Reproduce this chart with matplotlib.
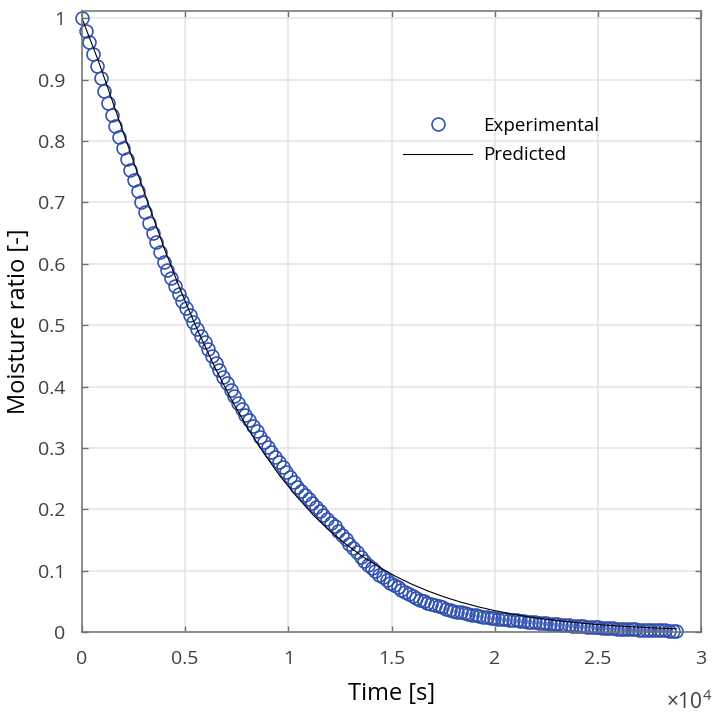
import numpy as np
import matplotlib
matplotlib.use("Agg")
import matplotlib.pyplot as plt

plt.rcParams["font.family"] = ["Open Sans", "DejaVu Sans"]
plt.rcParams["mathtext.fontset"] = "custom"
plt.rcParams["mathtext.rm"] = "Open Sans"
plt.rcParams["mathtext.it"] = "Open Sans"

# experimental moisture ratio, one reading every 180 s
time_exp = np.arange(0, 28801, 180)
mr_exp = [
    1.000, 0.980, 0.961, 0.942, 0.922, 0.902, 0.882, 0.862, 0.843, 0.824,
    0.806, 0.788, 0.770, 0.753, 0.736, 0.719, 0.701, 0.684, 0.667, 0.651,
    0.635, 0.619, 0.603, 0.590, 0.577, 0.564, 0.551, 0.539, 0.528, 0.516,
    0.505, 0.494, 0.483, 0.472, 0.461, 0.449, 0.438, 0.427, 0.416, 0.405,
    0.394, 0.384, 0.374, 0.364, 0.354, 0.345, 0.336, 0.327, 0.318, 0.310,
    0.302, 0.294, 0.285, 0.277, 0.269, 0.261, 0.253, 0.245, 0.237, 0.230,
    0.224, 0.217, 0.211, 0.204, 0.197, 0.191, 0.185, 0.178, 0.172, 0.165,
    0.158, 0.151, 0.144, 0.137, 0.130, 0.122, 0.115, 0.110, 0.104, 0.099,
    0.093, 0.089, 0.085, 0.080, 0.077, 0.073, 0.069, 0.066, 0.062, 0.058,
    0.055, 0.053, 0.051, 0.048, 0.046, 0.044, 0.042, 0.040, 0.038, 0.0362,
    0.0347, 0.0333, 0.0320, 0.0307, 0.0295, 0.0283, 0.0272, 0.0262, 0.0252, 0.0243,
    0.0234, 0.0226, 0.0219, 0.0212, 0.0206, 0.0200, 0.0194, 0.0188, 0.0182, 0.0176,
    0.0170, 0.0164, 0.0158, 0.0152, 0.0147, 0.0141, 0.0136, 0.0130, 0.0125, 0.0120,
    0.0115, 0.0110, 0.0105, 0.0100, 0.0095, 0.0091, 0.0087, 0.0083, 0.0079, 0.0075,
    0.0071, 0.0067, 0.0063, 0.0059, 0.0055, 0.0052, 0.0050, 0.0047, 0.0045, 0.0043,
    0.0041, 0.0038, 0.0036, 0.0034, 0.0032, 0.0030, 0.0028, 0.0026, 0.0024, 0.0022,
    0.0020,
]

# predicted curve, sampled every 800 s
time_pred = np.arange(0, 28801, 800)
mr_pred = [
    1.000, 0.930, 0.853, 0.776, 0.699, 0.624, 0.555, 0.492, 0.434, 0.381,
    0.334, 0.292, 0.254, 0.221, 0.191, 0.165, 0.143, 0.123, 0.106, 0.0907,
    0.0777, 0.0664, 0.0567, 0.0483, 0.0411, 0.0349, 0.0296, 0.0251, 0.0212, 0.0179,
    0.0151, 0.0127, 0.0107, 0.0090, 0.0076, 0.0064, 0.0053,
]

x_ticks = [0, 5000, 10000, 15000, 20000, 25000, 30000]
x_tick_labels = ["0", "0.5", "1", "1.5", "2", "2.5", "3"]
y_ticks = [0, 0.1, 0.2, 0.3, 0.4, 0.5, 0.6, 0.7, 0.8, 0.9, 1]
y_tick_labels = ["0", "0.1", "0.2", "0.3", "0.4", "0.5", "0.6", "0.7", "0.8", "0.9", "1"]

blue = "#2f4fae"
axis_grey = "#707070"
label_grey = "#404040"

fig = plt.figure(figsize=(7.13, 7.17), dpi=100)
ax = fig.add_axes([0.1150, 0.1185, 0.8682, 0.8662])

ax.plot(time_exp, mr_exp, "o", mfc="none", mec=blue, ms=9.3, mew=1.15,
        clip_on=False, label="Experimental")
ax.plot(time_pred, mr_pred, "-", color="black", lw=0.8, label="Predicted")

ax.set_xlim(0, 30000)
ax.set_ylim(0, 1.012)
ax.set_xticks(x_ticks)
ax.set_xticklabels(x_tick_labels)
ax.set_yticks(y_ticks)
ax.set_yticklabels(y_tick_labels)

ax.grid(True, color="#e4e4e4", lw=1.1)
ax.set_axisbelow(True)
for s in ax.spines.values():
    s.set_color(axis_grey)
    s.set_linewidth(1.1)
ax.tick_params(direction="in", length=4.5, width=1.0, color=axis_grey,
               top=True, right=True, labelsize=14, labelcolor=label_grey)
ax.tick_params(axis="x", pad=13)
ax.tick_params(axis="y", pad=12)

ax.set_xlabel("Time [s]", fontsize=17, labelpad=10)
ax.set_ylabel("Moisture ratio [-]", fontsize=17, labelpad=5)
fig.text(0.999, 1 - 709 / 717, "\u00d710$^{4}$", ha="right", va="baseline",
         fontsize=15, color=label_grey)

ax.legend(loc="center", bbox_to_anchor=(0.703, 0.804),
          bbox_transform=fig.transFigure, frameon=False, fontsize=13.5,
          handlelength=3.7, handletextpad=0.6, labelspacing=0.6,
          borderpad=0.0)

fig.savefig("out.png", dpi=100)
